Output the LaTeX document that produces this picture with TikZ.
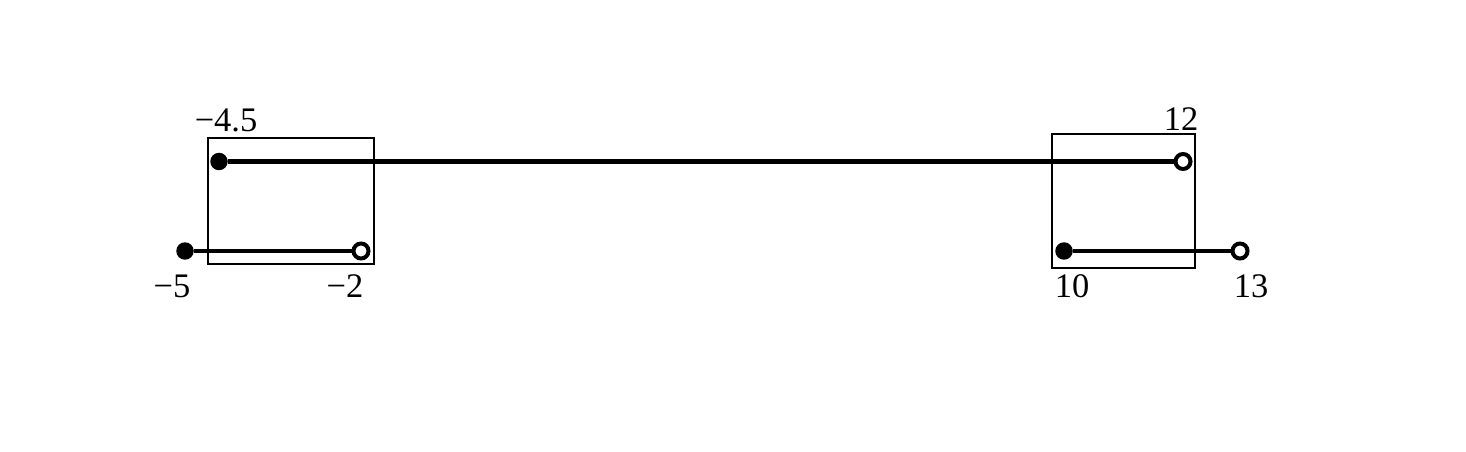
\documentclass[tikz,border=0pt]{standalone}
\usepackage{fontspec}
\setmainfont{Liberation Serif}
\tikzset{
  seg/.style={line width=0.09cm},
  closedpt/.style={circle, fill=black, inner sep=0pt, minimum size=0.35cm},
  openpt/.style={circle, draw=black, fill=white, line width=0.08cm, inner sep=0pt, minimum size=0.3cm},
  overlapbox/.style={draw, line width=0.035cm},
  numlabel/.style={anchor=base, inner sep=0pt, font=\fontsize{19.6}{22}\selectfont},
}
\begin{document}
\begin{tikzpicture}[x=0.02cm, y=-0.02cm]
\useasboundingbox (0,0) rectangle (1466,452);
% overlap boxes
\draw[overlapbox] (208.3,138.3) rectangle (374.3,264.3);
\draw[overlapbox] (1052.3,134) rectangle (1195,268.3);
% end points
\node[closedpt] (top1) at (219,161.5) {};
\node[openpt] (top2) at (1183,161.5) {};
\node[closedpt] (left1) at (185,251) {};
\node[openpt] (left2) at (361,251) {};
\node[closedpt] (right1) at (1064,251) {};
\node[openpt] (right2) at (1240,251) {};
\draw[seg] (top1) -- (top2);
\draw[seg] (left1) -- (left2);
\draw[seg] (right1) -- (right2);
% labels
\node[numlabel] (ltop1) at (226,131.5) {−4.5};
\node[numlabel] (ltop2) at (1181,131) {12};
\node[numlabel] (lleft1) at (172,297.5) {−5};
\node[numlabel] (lleft2) at (345,297.5) {−2};
\node[numlabel] (lright1) at (1072,297.5) {10};
\node[numlabel] (lright2) at (1251,297.5) {13};
\end{tikzpicture}
\end{document}
